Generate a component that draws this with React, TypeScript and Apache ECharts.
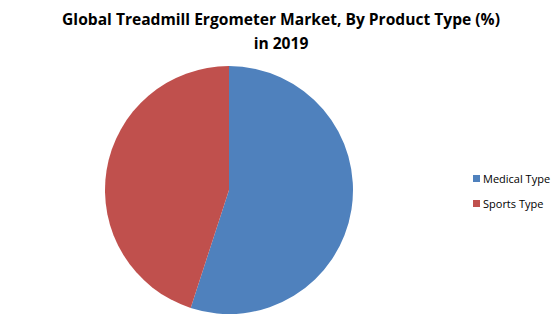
import React, { useEffect, useRef } from "react";
import * as echarts from "echarts";

const titleText = "Global Treadmill Ergometer Market, By Product Type (%)\nin 2019";
const categories = ["Medical Type", "Sports Type"];
const values = [55, 45];
const colors = ["#4F81BD", "#C0504D"];

export default function App() {
  const ref = useRef<HTMLDivElement>(null);
  useEffect(() => {
    if (!ref.current) return;
    const chart = echarts.init(ref.current, undefined, { renderer: "svg" });
    chart.setOption({
      animation: false,
      backgroundColor: "#ffffff",
      title: {
        text: titleText,
        left: 276,
        textAlign: "center",
        top: 2,
        textStyle: {
          fontFamily: "Open Sans",
          fontSize: 15.6,
          fontWeight: "bold",
          color: "#000000",
          lineHeight: 24,
        },
      },
      legend: {
        orient: "vertical",
        left: 468,
        top: 168,
        itemWidth: 7,
        itemHeight: 7,
        itemGap: 14,
        icon: "rect",
        data: categories,
        textStyle: { fontFamily: "Open Sans", fontSize: 11, color: "#000000", padding: [0, 0, 0, -2] },
      },
      series: [
        {
          type: "pie",
          center: [229, 190],
          radius: 124,
          startAngle: 90,
          clockwise: true,
          label: { show: false },
          labelLine: { show: false },
          emphasis: { disabled: true },
          data: categories.map((c, i) => ({
            name: c,
            value: values[i],
            itemStyle: { color: colors[i] },
          })),
        },
      ],
    });
    return () => chart.dispose();
  }, []);
  return <div ref={ref} style={{ width: 557, height: 321, position: "absolute", left: 0, top: 0 }} />;
}
